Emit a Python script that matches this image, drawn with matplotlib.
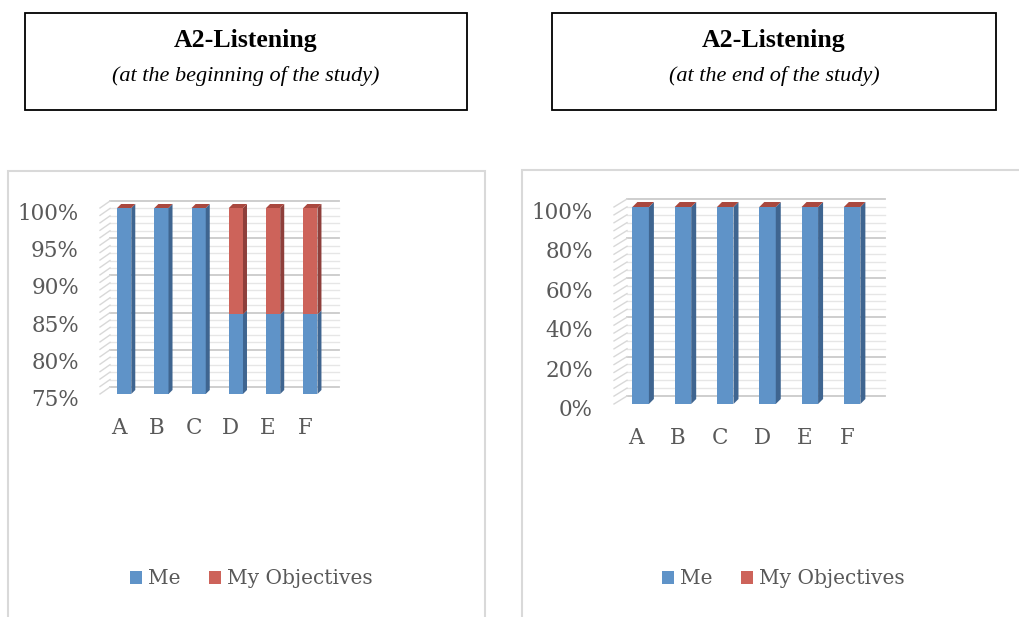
import matplotlib
matplotlib.use("Agg")
import matplotlib.pyplot as plt
from matplotlib import patches
from matplotlib.transforms import offset_copy
import numpy as np

W, H = 1020, 617  # taille de la figure en pixels

categories = ["A", "B", "C", "D", "E", "F"]
series_names = ["Me", "My Objectives"]

# début de l'étude
me_begin = [1.00, 1.00, 1.00, 0.857, 0.857, 0.857]
obj_begin = [0.00, 0.00, 0.00, 0.143, 0.143, 0.143]
ticks_begin = [0.75, 0.80, 0.85, 0.90, 0.95, 1.00]
ticklabels_begin = ["75%", "80%", "85%", "90%", "95%", "100%"]

# fin de l'étude
me_end = [1.00, 1.00, 1.00, 1.00, 1.00, 1.00]
obj_end = [0.00, 0.00, 0.00, 0.00, 0.00, 0.00]
ticks_end = [0.0, 0.2, 0.4, 0.6, 0.8, 1.0]
ticklabels_end = ["0%", "20%", "40%", "60%", "80%", "100%"]

BLUE, BLUE_SIDE = "#5f93c8", "#3f6590"
RED, RED_SIDE, RED_TOP = "#cd635a", "#8e3f3b", "#a9483f"
TXT = "#595959"
FONT = "DejaVu Serif"
FS = 15.5


def fx(px):
    return px / W


def fy(py):
    return 1 - py / H


def panel(fig, box, xlim, me, obj, ticks, ticklabels, minor_step,
          wall, bar, width, legend_cx):
    """un graphique à barres empilées façon 3D"""
    x0px, top_px, x1px, bot_px = box
    ax = fig.add_axes([fx(x0px), fy(bot_px), fx(x1px - x0px), (bot_px - top_px) / H])
    ymin, ymax = ticks[0], ticks[-1]
    ax.set_xlim(*xlim)
    ax.set_ylim(ymin, ymax)
    ax.axis("off")

    # pixels -> unités de données
    ux = (xlim[1] - xlim[0]) / (x1px - x0px)
    uy = (ymax - ymin) / (bot_px - top_px)
    wdx, wdy = wall[0] * ux, wall[1] * uy
    bdx, bdy = bar * ux, bar * uy

    # mur du fond
    back = offset_copy(ax.transData, fig=fig, x=wall[0], y=wall[1], units="dots")
    minor = np.arange(ymin, ymax + 1e-9, minor_step)
    for v in minor:
        major = np.any(np.isclose(v, ticks))
        ax.plot([xlim[0], xlim[1]], [v, v], transform=back, clip_on=False,
                color="#cacaca" if major else "#e6e6e6", lw=1.3 if major else 1.0, zorder=1)
        # mur de gauche
        ax.plot([xlim[0], xlim[0] + wdx], [v, v + wdy], clip_on=False,
                color="#d8d8d8", lw=1.0, zorder=1)

    x = np.arange(len(categories))
    me = np.array(me)
    obj = np.array(obj)
    b1 = ax.bar(x, me, width, color=BLUE, zorder=3, label=series_names[0])
    b2 = ax.bar(x, obj, width, bottom=me, color=RED, zorder=3, label=series_names[1])

    for xi, m, o in zip(x, me, obj):
        r = xi + width / 2
        l = xi - width / 2
        lo = max(ymin, 0)
        # faces latérales
        for y0, y1, c in [(lo, m, BLUE_SIDE), (m, m + o, RED_SIDE)]:
            if y1 > y0:
                ax.add_patch(patches.Polygon(
                    [(r, y0), (r + bdx, y0 + bdy), (r + bdx, y1 + bdy), (r, y1)],
                    closed=True, color=c, lw=0, zorder=3, clip_on=False))
        # face du dessus
        t = m + o
        ax.add_patch(patches.Polygon(
            [(l, t), (l + bdx, t + bdy), (r + bdx, t + bdy), (r, t)],
            closed=True, color=RED_TOP, lw=0, zorder=4, clip_on=False))

    # étiquettes
    ytr = offset_copy(ax.transData, fig=fig, x=-21, y=-6, units="dots")
    for v, s in zip(ticks, ticklabels):
        ax.text(xlim[0], v, s, transform=ytr, ha="right", va="center",
                color=TXT, fontsize=FS, family=FONT)
    xtr = offset_copy(ax.transData, fig=fig, x=-5, y=-34, units="dots")
    for xi, c in zip(x, categories):
        ax.text(xi, ymin, c, transform=xtr, ha="center", va="center",
                color=TXT, fontsize=FS, family=FONT)

    ax.legend(handles=[b1, b2], loc="center", ncol=2, frameon=False,
              bbox_to_anchor=(fx(legend_cx), fy(579)), bbox_transform=fig.transFigure,
              handlelength=0.6, handleheight=0.6, handletextpad=0.3, columnspacing=1.4,
              prop={"family": FONT, "size": 14.5}, labelcolor=TXT)
    return ax


fig = plt.figure(figsize=(W / 100, H / 100), dpi=100, facecolor="white")

# cadres des graphiques
fig.add_artist(patches.Rectangle((fx(8), fy(640)), fx(477), (640 - 171) / H,
                                 transform=fig.transFigure, fill=False,
                                 edgecolor="#d9d9d9", lw=1.5))
fig.add_artist(patches.Rectangle((fx(522), fy(640)), fx(520), (640 - 170) / H,
                                 transform=fig.transFigure, fill=False,
                                 edgecolor="#d9d9d9", lw=1.5))

# cadres des titres
for (a, b), sub in [((25, 467), "(at the beginning of the study)"),
                    ((552, 996), "(at the end of the study)")]:
    fig.add_artist(patches.Rectangle((fx(a), fy(110)), fx(b - a), 97 / H,
                                     transform=fig.transFigure, fill=False,
                                     edgecolor="black", lw=1.3))
    cx = fx((a + b) / 2)
    fig.text(cx, fy(41), "A2-Listening", ha="center", va="center",
             family="Liberation Serif", weight="bold", fontsize=18.5)
    fig.text(cx, fy(76), sub, ha="center", va="center",
             family="Liberation Serif", style="italic", fontsize=16)

panel(fig, (100, 208, 329, 394), (-0.65, 5.5), me_begin, obj_begin,
      ticks_begin, ticklabels_begin, 0.01, (10, 7), 4, 0.38, 251)
panel(fig, (614, 207, 872, 404), (-0.63, 5.47), me_end, obj_end,
      ticks_end, ticklabels_end, 0.04, (13, 8), 5, 0.39, 783)

fig.savefig("out.png", dpi=100, facecolor="white")
